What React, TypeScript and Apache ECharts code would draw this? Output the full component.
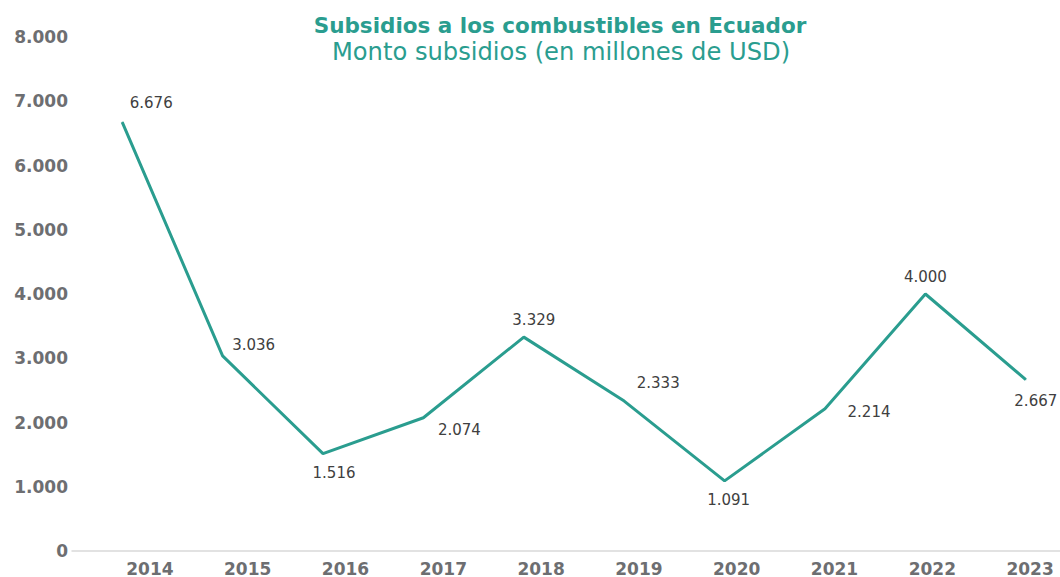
import React, { useEffect, useRef } from "react";
import * as echarts from "echarts";

const years = ["2014", "2015", "2016", "2017", "2018", "2019", "2020", "2021", "2022", "2023"];
const subsidies = [6676, 3036, 1516, 2074, 3329, 2333, 1091, 2214, 4000, 2667];
const titleText = "Subsidios a los combustibles en Ecuador";
const subtitleText = "Monto subsidios (en millones de USD)";

// label placement relative to each point (styling only)
const labelOffsets: [number, number][] = [
  [29, -19], [31, -11], [11, 19], [36, 12], [10, -17],
  [34, -18], [4, 19], [44, 3], [0, -17], [10, 21],
];

const TEAL = "#2a9d8f";
const GRAY = "#6d6e71";

const fmt = (n: number) => String(n).replace(/\B(?=(\d{3})+(?!\d))/g, ".");

export default function App() {
  const ref = useRef<HTMLDivElement>(null);
  useEffect(() => {
    document.body.style.margin = "0";
    document.body.style.overflow = "hidden";
    document.documentElement.style.overflow = "hidden";
    if (!ref.current) return;
    const chart = echarts.init(ref.current, null, { renderer: "svg" });
    chart.setOption({
      animation: false,
      backgroundColor: "#ffffff",
      graphic: [
        {
          type: "text",
          x: 560,
          y: 25,
          style: {
            text: titleText,
            fill: TEAL,
            font: "bold 21.5px 'DejaVu Sans'",
            textAlign: "center",
            textVerticalAlign: "middle",
          },
        },
        {
          type: "text",
          x: 561,
          y: 52,
          style: {
            text: subtitleText,
            fill: TEAL,
            font: "24.2px 'DejaVu Sans'",
            textAlign: "center",
            textVerticalAlign: "middle",
          },
        },
      ],
      grid: [
        { left: 72, top: 37, width: 1004, height: 514, containLabel: false },
        { left: 101, top: 37, width: 978, height: 514, containLabel: false },
      ],
      xAxis: [
        {
          type: "category",
          gridIndex: 0,
          data: years,
          boundaryGap: true,
          axisLine: { show: true, lineStyle: { color: "#d9d9d9", width: 1.5 } },
          axisTick: { show: false },
          axisLabel: { show: false },
          splitLine: { show: false },
        },
        {
          type: "category",
          gridIndex: 1,
          data: years,
          boundaryGap: true,
          axisLine: { show: false },
          axisTick: { show: false },
          axisLabel: {
            show: true,
            margin: 11,
            color: GRAY,
            fontFamily: "DejaVu Sans",
            fontWeight: "bold",
            fontSize: 17,
          },
          splitLine: { show: false },
        },
      ],
      yAxis: [
        {
          type: "value",
          gridIndex: 0,
          min: 0,
          max: 8000,
          interval: 1000,
          axisLine: { show: false },
          axisTick: { show: false },
          splitLine: { show: false },
          axisLabel: {
            margin: 4,
            color: GRAY,
            fontFamily: "DejaVu Sans",
            fontWeight: "bold",
            fontSize: 17,
            formatter: (v: number) => fmt(v),
          },
        },
        {
          type: "value",
          gridIndex: 1,
          min: 0,
          max: 8000,
          show: false,
        },
      ],
      series: [
        {
          type: "line",
          xAxisIndex: 0,
          yAxisIndex: 0,
          data: subsidies.map((v, i) => ({
            value: v,
            label: { offset: labelOffsets[i] },
          })),
          symbol: "circle",
          symbolSize: 1,
          showSymbol: true,
          itemStyle: { color: TEAL },
          lineStyle: { color: TEAL, width: 3 },
          label: {
            show: true,
            position: "inside",
            align: "center",
            verticalAlign: "middle",
            color: "#404040",
            fontFamily: "DejaVu Sans",
            fontSize: 15,
            formatter: (p: any) => fmt(p.value),
          },
        },
      ],
    });
    return () => chart.dispose();
  }, []);
  return <div ref={ref} style={{ width: 1080, height: 577 }} />;
}
